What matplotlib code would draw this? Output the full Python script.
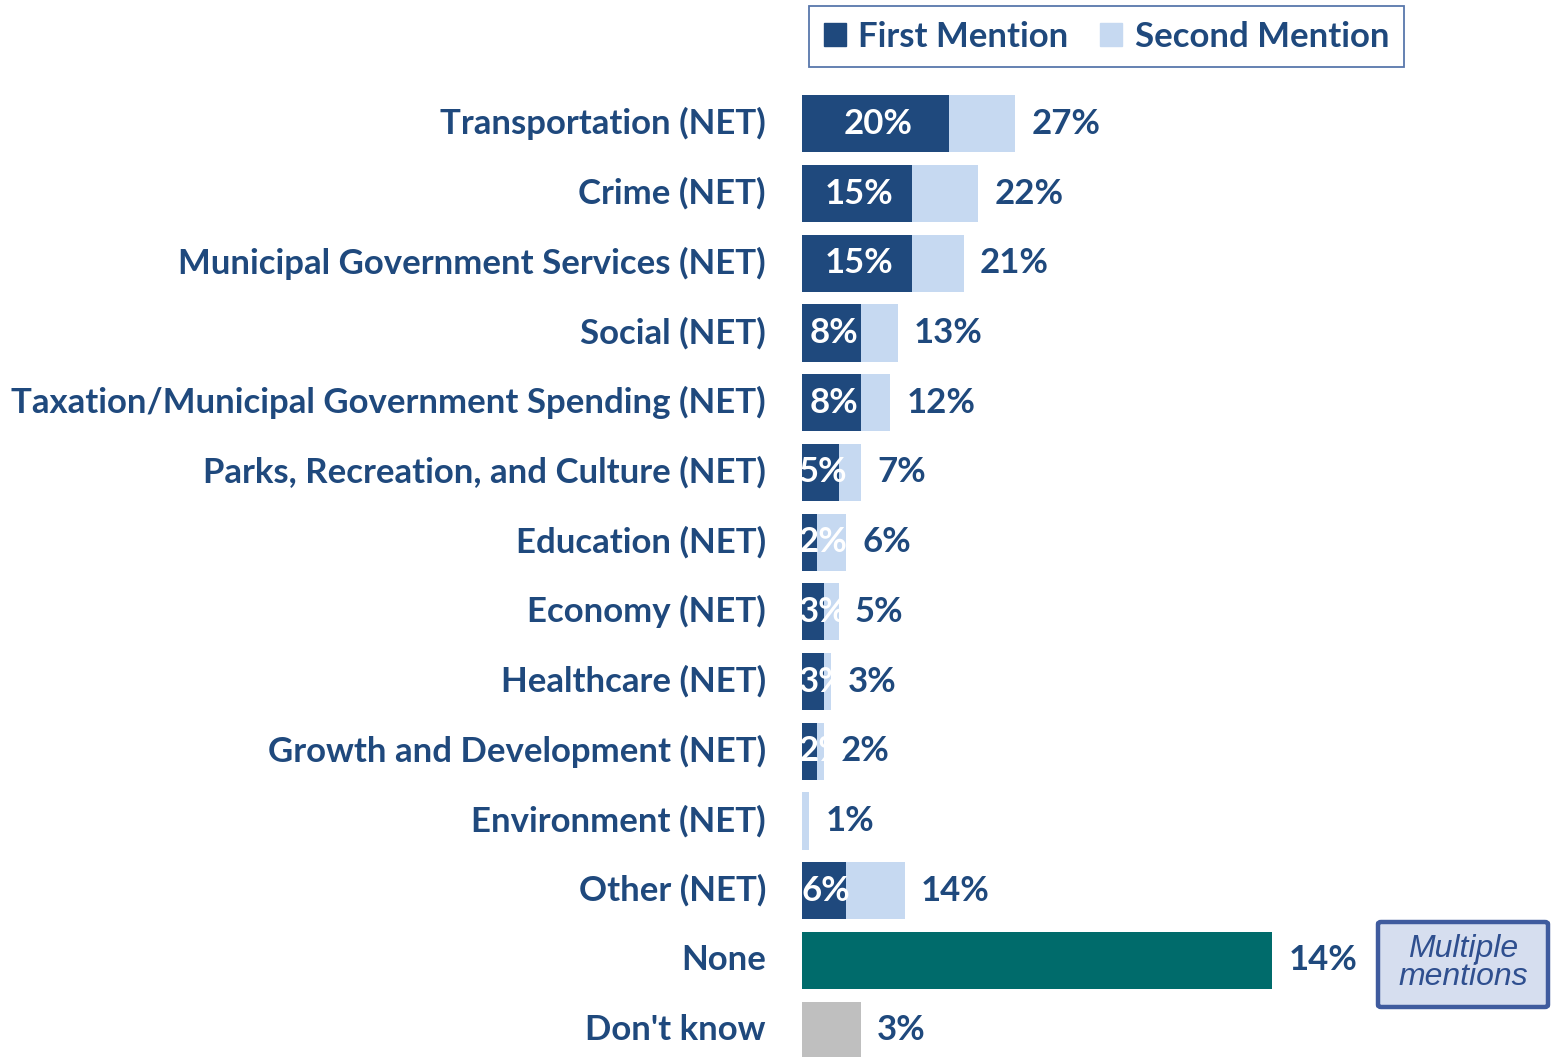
import matplotlib.pyplot as plt
from matplotlib.patches import Patch, Rectangle, FancyBboxPatch

plt.rcParams.update({"font.family": ["Lato", "DejaVu Sans"], "font.weight": "bold"})

NAVY, LIGHT, TEAL, GREY, INK = "#1F497D", "#C6D9F1", "#006B6B", "#BFBFBF", "#1F497D"

categories = ["Transportation (NET)", "Crime (NET)", "Municipal Government Services (NET)",
              "Social (NET)", "Taxation/Municipal Government Spending (NET)",
              "Parks, Recreation, and Culture (NET)", "Education (NET)", "Economy (NET)",
              "Healthcare (NET)", "Growth and Development (NET)", "Environment (NET)",
              "Other (NET)"]
first_mention = [20, 15, 15, 8, 8, 5, 2, 3, 3, 2, 0, 6]
second_mention = [9, 9, 7, 5, 4, 3, 4, 2, 1, 1, 1, 8]
net_labels = ["27%", "22%", "21%", "13%", "12%", "7%", "6%", "5%", "3%", "2%", "1%", "14%"]

extra_cats = ["None", "Don't know"]
extra_bars = [64, 8]          # visible bar lengths in the reference
extra_labels = ["14%", "3%"]
extra_colors = [TEAL, GREY]

W, H = 1557, 1057
fig = plt.figure(figsize=(W / 100, H / 100), dpi=100)
ax = fig.add_axes([802 / W, -8 / H, (W - 802) / W, (1065 - 89) / H])
ax.set_xlim(0, (W - 802) / 7.35)
n = len(categories) + len(extra_cats)
ax.set_ylim(n - 0.5, -0.5)
ax.axis("off")

FS = 25
bh = 0.82
y = list(range(len(categories)))
ax.barh(y, first_mention, height=bh, color=NAVY)
ax.barh(y, second_mention, left=first_mention, height=bh, color=LIGHT)

for i, (f, s, lab) in enumerate(zip(first_mention, second_mention, net_labels)):
    tot = f + s
    ax.text(tot + 2.2, i, lab, ha="left", va="center", fontsize=FS, color=INK)
    if f > 0:
        # white inner label, clipped to the stacked bar like the original
        clip = Rectangle((0, i - bh / 2), tot, bh, transform=ax.transData)
        t = ax.text(max(f / 2 + 0.3, 2.9), i, f"{f}%", ha="center", va="center",
                    fontsize=FS, color="white")
        t.set_clip_path(clip)

ye = [len(categories) + k for k in range(len(extra_cats))]
ax.barh(ye, extra_bars, height=bh, color=extra_colors)
for yy, b, lab in zip(ye, extra_bars, extra_labels):
    ax.text(b + 2.2, yy, lab, ha="left", va="center", fontsize=FS, color=INK)

for i, c in enumerate(categories + extra_cats):
    ax.text(-4.9, i, c, ha="right", va="center", fontsize=FS, color=INK, clip_on=False)

# legend
leg = fig.legend(handles=[Patch(color=NAVY, label="First Mention"),
                          Patch(color=LIGHT, label="Second Mention")],
                 loc="upper left", bbox_to_anchor=(809 / W, 1 - 6 / H), ncol=2,
                 frameon=True, fancybox=False, edgecolor="#2F5597", fontsize=FS,
                 handlelength=0.65, handleheight=0.65, handletextpad=0.35,
                 columnspacing=0.9, borderpad=0.42, borderaxespad=0)
for txt in leg.get_texts():
    txt.set_color(INK)
leg.get_frame().set_linewidth(1.3)

# "Multiple mentions" note
fig.patches.append(FancyBboxPatch((1378 / W, 1 - 1007 / H), 170 / W, 85 / H,
                                  boxstyle="round,pad=0,rounding_size=0.002",
                                  transform=fig.transFigure, facecolor="#D6DEEF",
                                  edgecolor="#3F5B9E", linewidth=3.2))
fig.text(1463 / W, 1 - 963 / H, "Multiple\nmentions", ha="center", va="center",
         fontsize=23, style="italic", fontweight="normal", color="#2F4F8F",
         family=["Liberation Sans"], linespacing=0.9)

fig.savefig("out.png", dpi=100)
